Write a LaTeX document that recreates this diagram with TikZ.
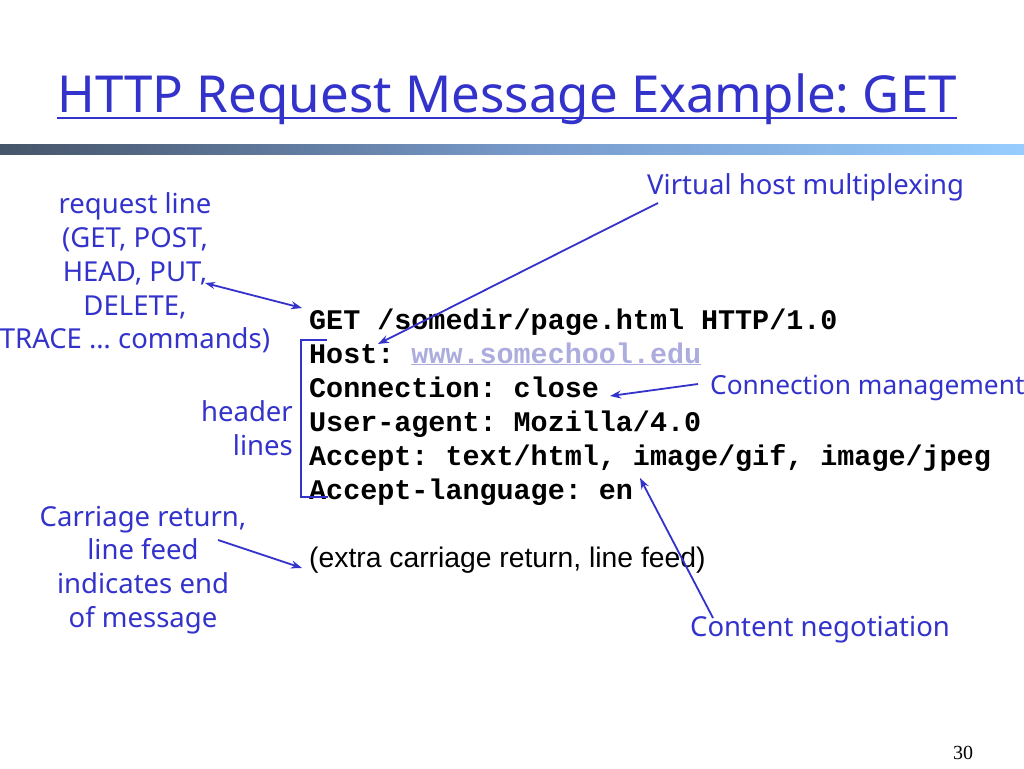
\documentclass[tikz,border=0pt]{standalone}
\usepackage{fontspec}
\setmainfont{Liberation Sans}
\newfontfamily\comicf{Noto Sans}
\newfontfamily\monof{Liberation Mono}
\newfontfamily\timesf{Liberation Serif}
\usetikzlibrary{arrows.meta}
\definecolor{lblue}{RGB}{51,51,204}
\definecolor{urlc}{RGB}{172,172,222}
\definecolor{barL}{RGB}{70,85,105}
\definecolor{barM}{RGB}{118,152,200}
\definecolor{barR}{RGB}{150,205,255}
\frenchspacing
\begin{document}
\begin{tikzpicture}[x=1pt,y=-1pt,
  lbl/.style={text=lblue, font=\comicf\fontsize{27.5}{33.8}\selectfont, inner sep=0pt},
  code/.style={anchor=base west, inner sep=0pt, font=\monof\bfseries\fontsize{28.4}{34}\selectfont},
  arr/.style={draw=lblue, line width=1.8pt, -{Stealth[length=11pt,width=8pt]}},
  darr/.style={draw=lblue, line width=1.8pt, {Stealth[length=10pt,width=7pt]}-{Stealth[length=11pt,width=8pt]}},
  brk/.style={draw=lblue, line width=1.8pt},
]
\useasboundingbox (0,0) rectangle (1024,768);
\fill[white] (0,0) rectangle (1024,768);
% header bar
\shade[left color=barL, right color=barR, middle color=barM] (0,144) rectangle (1024,154);
% title
\node[anchor=base, text=lblue, font=\comicf\fontsize{51}{60}\selectfont, inner sep=0pt] (title) at (507,112) {HTTP Request Message Example: GET};
\draw[lblue, line width=2.5pt] ([yshift=-6pt]title.base west) -- ([yshift=-6pt]title.base east);
% code lines
\node[code] (l1) at (309,329) {GET /somedir/page.html HTTP/1.0};
\node[code] (l2) at (309,363) {Host: {\color{urlc}\underline{www.somechool.edu}}};
\node[code] (l3) at (309,397) {Connection: close};
\node[code] (l4) at (309,431) {User-agent: Mozilla/4.0};
\node[code] (l5) at (309,465) {Accept: text/html, image/gif, image/jpeg};
\node[code] (l6) at (309,499) {Accept-language: en};
\node[anchor=base west, inner sep=0pt, font=\fontsize{28.3}{32}\selectfont] (extra) at (309,567) {(extra carriage return, line feed)};
% labels
\node[lbl, align=center] (req) at (135,273) {request line\\(GET, POST,\\HEAD, PUT,\\DELETE,\\TRACE … commands)};
\node[lbl, align=right, anchor=east] (hdr) at (293,428) {header\\lines};
\node[lbl, anchor=west] (vhost) at (647,187) {Virtual host multiplexing};
\node[lbl, anchor=west, font=\comicf\fontsize{26.3}{33.8}\selectfont] (conn) at (710,388) {Connection management};
\node[lbl, align=center] (crlf) at (143,570) {Carriage return,\\line feed\\indicates end\\of message};
\node[lbl, anchor=west] (cneg) at (690,630) {Content negotiation};
% arrow end points
\coordinate (reqA) at (205,283); \coordinate (reqB) at (302,308);
\coordinate (vhA) at (658,203);  \coordinate (vhB) at (378,344);
\coordinate (cnA) at (698,384);  \coordinate (cnB) at (610,396);
\coordinate (ngA) at (713,618);  \coordinate (ngB) at (640,478);
\coordinate (crA) at (218,540);  \coordinate (crB) at (302,568);
\draw[darr] (reqA) -- (reqB);
\draw[arr] (vhA) -- (vhB);
\draw[arr] (cnA) -- (cnB);
\draw[arr] (ngA) -- (ngB);
\draw[arr] (crA) -- (crB);
% bracket
\draw[brk] (327,340) -- (301,340) -- (301,497) -- (328,497);
% page number
\node[anchor=base, inner sep=0pt, font=\timesf\fontsize{20}{24}\selectfont] (pg) at (963,759) {30};
\end{tikzpicture}
\end{document}
